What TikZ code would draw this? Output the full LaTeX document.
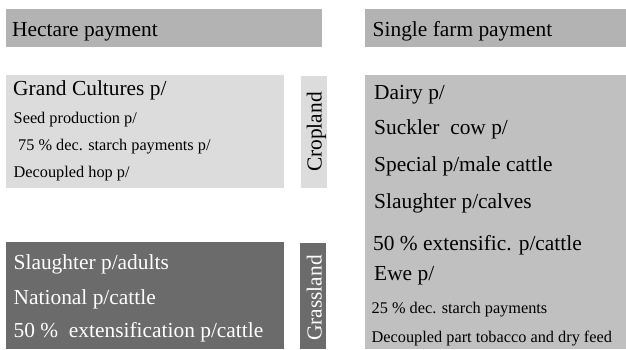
\documentclass[tikz,border=0pt]{standalone}
\usepackage{fontspec}
\setmainfont{Liberation Serif}
\newfontfamily\tnr{Liberation Serif}
\definecolor{hdrgray}{HTML}{B3B3B3}
\definecolor{lightgray}{HTML}{DCDCDC}
\definecolor{darkgray}{HTML}{6B6B6B}
\definecolor{midgray}{HTML}{C0C0C0}
\begin{document}
\begin{tikzpicture}[x=1pt,y=-1pt,
  box/.style={rectangle,draw=none,inner sep=0pt,outer sep=0pt,anchor=north west},
  big/.style={font=\tnr\fontsize{21.4}{25}\selectfont,inner sep=0pt,anchor=base west},
  small/.style={font=\tnr\fontsize{16.3}{20}\selectfont,inner sep=0pt,anchor=base west},
  vlab/.style={font=\tnr\fontsize{21.4}{25}\selectfont,inner sep=0pt,rotate=90,anchor=base}]
\useasboundingbox (0,0) rectangle (626,349);
% boxes
\node[box,fill=hdrgray,minimum width=316pt,minimum height=38pt] (hdrL) at (6,9) {};
\node[box,fill=hdrgray,minimum width=261pt,minimum height=38pt] (hdrR) at (365,9) {};
\node[box,fill=lightgray,minimum width=278pt,minimum height=113pt] (crop) at (6,75) {};
\node[box,fill=lightgray,minimum width=26pt,minimum height=112pt] (croplab) at (301,76) {};
\node[box,fill=darkgray,minimum width=278pt,minimum height=107pt] (grass) at (6,242) {};
\node[box,fill=darkgray,minimum width=26pt,minimum height=106pt] (grasslab) at (300,243) {};
\node[box,fill=midgray,minimum width=261pt,minimum height=274pt] (sfp) at (365,75) {};
% headers
\node[big] (tH) at (12,36) {Hectare payment};
\node[big] (tS) at (372.5,36) {Single farm payment};
% cropland
\node[big] (c1) at (13,95.5) {Grand Cultures p/};
\node[small] (c2) at (13.5,123) {Seed production p/};
\node[small] (c3) at (18,150) {75 \% dec. starch payments p/};
\node[small] (c4) at (13.5,177) {Decoupled hop p/};
\node[vlab] (cl) at (321.5,132) {Cropland};
% grassland
\node[big,text=white] (g1) at (13.5,269.5) {Slaughter p/adults};
\node[big,text=white] (g2) at (13.5,304) {National p/cattle};
\node[big,text=white] (g3) at (13.5,337) {50 \%\ \ extensification p/cattle};
\node[vlab,text=white] (gl) at (321.5,298) {Grassland};
% single farm payment
\node[big] (s1) at (374,99) {Dairy p/};
\node[big] (s2) at (374,134) {Suckler\ \ cow p/};
\node[big] (s3) at (374,171) {Special p/male cattle};
\node[big] (s4) at (374,208) {Slaughter p/calves};
\node[big] (s5) at (373,250.5) {50 \% extensific. p/cattle};
\node[big] (s6) at (374,280) {Ewe p/};
\node[small] (s7) at (371.5,313) {25 \% dec. starch payments};
\node[small] (s8) at (371.5,342) {Decoupled part tobacco and dry feed};
\end{tikzpicture}
\end{document}
